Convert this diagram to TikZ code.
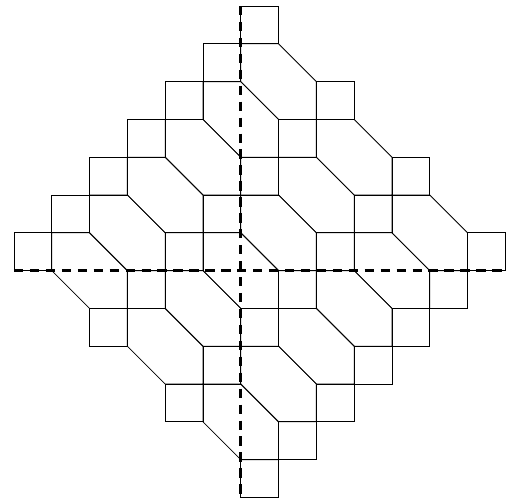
\documentclass[tikz,border=0pt]{standalone}
\usepackage{tikz}

\begin{document}
\begin{tikzpicture}[tile/.style={black, line width=0.6pt}, axis/.style={black, line width=2pt, dash pattern=on 7pt off 5pt}]
	\useasboundingbox (-6.37,-6.016) rectangle (7.228,7.159);
	% hexagons, centre (a,b) with a+b=s, a-b=d
	\foreach \s in {6,4,...,-4}
		\foreach \d in {-4,0,4} {
			\pgfmathsetmacro\a{(\s+\d)/2}
			\pgfmathsetmacro\b{(\s-\d)/2}
			\draw[tile] (\a-1,\b+1) -- (\a,\b+1) -- (\a+1,\b) -- (\a+1,\b-1) -- (\a,\b-1) -- (\a-1,\b) -- cycle;
		}
	% squares between them
	\foreach \s in {6,4,...,-6}
		\foreach \d in {-6,-2,2,6} {
			\pgfmathsetmacro\p{(\s+\d)/2}
			\pgfmathsetmacro\q{(\s-\d)/2}
			\draw[tile] (\p,\q) rectangle ++(1,1);
		}
	% the two axes
	\draw[axis] (0,7) -- (0,-6);
	\draw[axis] (-6,0) -- (7,0);
\end{tikzpicture}
\end{document}
